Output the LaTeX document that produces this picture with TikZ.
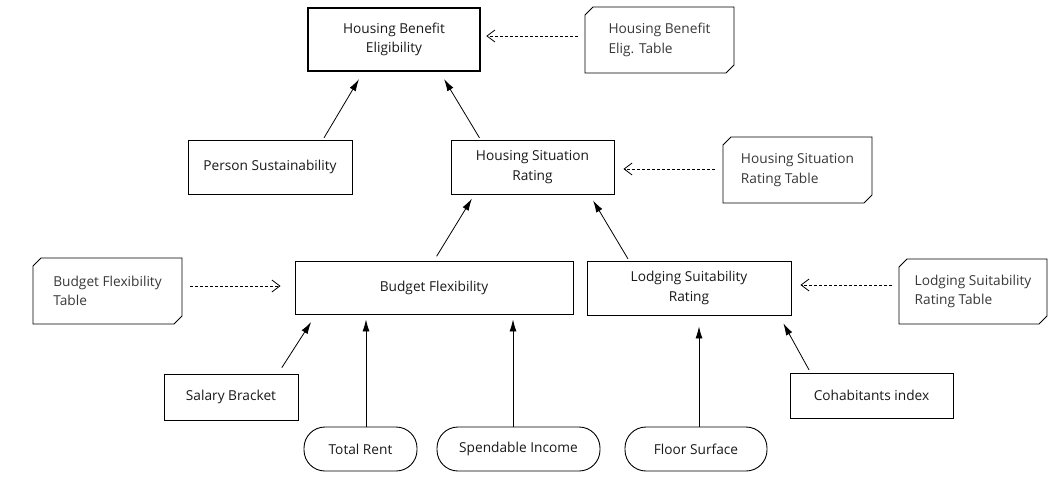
\documentclass[tikz,border=0pt]{standalone}
\usepackage{fontspec}
\setmainfont{Open Sans}
\usepackage{tikz}
\usetikzlibrary{arrows.meta,shapes.misc}

\begin{document}
\begin{tikzpicture}[x=1pt, y=-1pt, font=\fontsize{13.7}{19.5}\selectfont,
  dec/.style={rectangle, draw, line width=0.9pt, align=center, inner sep=0pt, text=black!90},
  know/.style={chamfered rectangle, chamfered rectangle corners={north west,south east},
    chamfered rectangle xsep=4pt, chamfered rectangle ysep=4pt, draw, line width=0.9pt,
    align=left, inner sep=0pt, text=black!78},
  inp/.style={rectangle, rounded corners=21pt, draw, line width=0.9pt, inner sep=0pt,
    minimum height=44pt, text=black!90},
  req/.style={line width=0.8pt, -{Latex[length=12pt,width=7pt]}},
  auth/.style={line width=0.8pt, dash pattern=on 3pt off 2pt, -{Straight Barb[length=8pt,width=12pt]}}]
  \useasboundingbox (0,0) rectangle (1062,483);
  \node [dec, line width=2.6pt, minimum width=172pt, minimum height=63pt] (hbe) at (394, 39.5) {Housing Benefit\\Eligibility};
  \node [dec, minimum width=164pt, minimum height=54pt] (ps) at (270, 167) {Person Sustainability};
  \node [dec, minimum width=163pt, minimum height=54pt] (hsr) at (532.5, 167) {Housing Situation\\Rating};
  \node [dec, minimum width=278pt, minimum height=53pt] (bf) at (434, 287.5) {Budget Flexibility};
  \node [dec, minimum width=204pt, minimum height=54pt] (lsr) at (689, 288) {Lodging Suitability\\Rating};
  \node [dec, minimum width=134pt, minimum height=46pt] (sb) at (231, 397) {Salary Bracket};
  \node [dec, minimum width=163pt, minimum height=45pt] (ci) at (871.5, 395.5) {Cohabitants index};
  \node [know, minimum width=149pt, minimum height=66pt] (hbet) at (659.5, 40) {Housing Benefit\\Elig. Table};
  \node [know, minimum width=149pt, minimum height=66pt] (hsrt) at (797.5, 170) {Housing Situation\\Rating Table};
  \node [know, minimum width=149pt, minimum height=66pt] (bft) at (107.5, 291) {Budget Flexibility\\Table};
  \node [know, minimum width=148pt, minimum height=65pt] (lsrt) at (973, 291.5) {Lodging Suitability\\Rating Table};
  \node [inp, minimum width=113pt] (tr) at (360.5, 449) {Total Rent};
  \node [inp, minimum width=163pt] (si) at (518.5, 449) {Spendable Income};
  \node [inp, minimum width=142pt] (fs) at (696, 449) {Floor Surface};
  % information requirements
  \draw [req, shorten <=2pt, shorten >=8pt] ([xshift=53pt]ps.north) -- ([xshift=-31pt]hbe.south);
  \draw [req, shorten <=2pt, shorten >=8pt] ([xshift=-52pt]hsr.north) -- ([xshift=46pt]hbe.south);
  \draw [req, shorten <=5pt, shorten >=5pt] (bf.north) -- ([xshift=-58pt]hsr.south);
  \draw [req, shorten <=2pt, shorten >=7pt] ([xshift=-60pt]lsr.north) -- ([xshift=57pt]hsr.south);
  \draw [req, shorten <=7pt, shorten >=9pt] ([xshift=47pt]sb.north) -- ([xshift=-118pt]bf.south);
  \draw [req, shorten >=5pt] ([xshift=5.5pt]tr.north) -- ([xshift=-68pt]bf.south);
  \draw [req, shorten >=5pt] ([xshift=-5.5pt]si.north) -- ([xshift=79pt]bf.south);
  \draw [req, shorten >=11pt] ([xshift=3pt]fs.north) -- ([xshift=10pt]lsr.south);
  \draw [req, shorten <=3pt, shorten >=9pt] ([xshift=-61pt]ci.north) -- ([xshift=90pt]lsr.south);
  % authority requirements
  \draw [auth, shorten <=7pt, shorten >=5pt] ([yshift=4pt]hbet.west) -- ([yshift=3.5pt]hbe.east);
  \draw [auth, shorten <=8pt, shorten >=9pt] ([yshift=1pt]hsrt.west) -- ([yshift=-2pt]hsr.east);
  \draw [auth, shorten <=8pt, shorten >=14pt] ([yshift=5pt]bft.east) -- ([yshift=1.5pt]bf.west);
  \draw [auth, shorten <=7pt, shorten >=9pt] ([yshift=6.5pt]lsrt.west) -- ([yshift=3pt]lsr.east);
\end{tikzpicture}
\end{document}
